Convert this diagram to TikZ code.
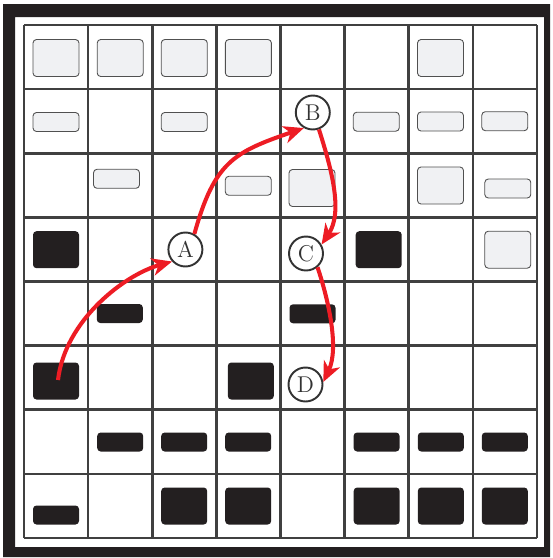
\documentclass[tikz,border=0pt]{standalone}
\usepackage{xcolor}
\usepackage{tikz}
\usetikzlibrary{arrows.meta, positioning, calc}

\definecolor{boardblack}{RGB}{35,31,32}
\definecolor{gridgray}{RGB}{64,64,64}
\definecolor{lightfill}{RGB}{240,241,243}
\definecolor{lightedge}{RGB}{80,80,80}
\definecolor{movered}{RGB}{237,28,36}

\begin{document}
\begin{tikzpicture}[x=0.02cm, y=-0.02cm,
  cellline/.style={gridgray, line width=1.5pt},
  lightpiece/.style={fill=lightfill, draw=lightedge, line width=0.5pt, rounded corners=2pt},
  darkpiece/.style={fill=boardblack, rounded corners=2pt},
  marker/.style={circle, draw=gridgray!80!black, line width=1.1pt, fill=white,
    minimum size=0.68cm, inner sep=0pt, text=gridgray!80!black, font=\fontsize{13}{13}\selectfont},
  move/.style={movered, line width=2.3pt, -{Stealth[length=11.5pt,width=10pt,inset=3.5pt]}}]
\useasboundingbox (0,0) rectangle (553,558);

% outer frame of the board
\fill[boardblack, even odd rule] (3,4) rectangle (550,557) (15,17) rectangle (544,547);

% 8x8 cells
\foreach \i in {0,...,8} {
  \draw[cellline] ({24+\i*64.125},25) -- ({24+\i*64.125},538);
  \draw[cellline] (24,{25+\i*64.125}) -- (537,{25+\i*64.125});
}

% light pieces (centre of each piece)
\foreach \x/\y in {56/58, 120.2/58, 184.3/58, 248.4/58, 440.5/58,
  312/188, 440.5/185.5, 507.8/249.7}
  \draw[lightpiece] (\x-23,\y-18.5) rectangle +(46,37);
\foreach \x/\y in {56/122, 184.2/122, 376.3/121.7, 440.5/121.5, 504.8/121.2,
  116.5/178.8, 248.3/185.8, 507.8/188.5}
  \draw[lightpiece] (\x-23,\y-9.5) rectangle +(46,19);

% dark pieces
\foreach \x/\y in {56/249.7, 378.7/249.7, 56/381, 250.8/381,
  184.2/506, 248.2/506, 376.7/506, 440.8/506, 504.8/506}
  \fill[darkpiece] (\x-23,\y-18.5) rectangle +(46,37);
\foreach \x/\y in {119.8/313.5, 312.5/313.8, 120.2/442, 184.2/442, 248.2/442,
  376.6/442, 440.8/442, 504.8/442, 56/515}
  \fill[darkpiece] (\x-23,\y-9.5) rectangle +(46,19);

% squares visited by the move
\node[marker] (A) at (185.4,249.5) {A};
\node[marker] (B) at (312.8,112.5) {B};
\node[marker] (C) at (306,253.5) {C};
\node[marker] (D) at (305.5,384.5) {D};
\coordinate (start) at (58,380);

\draw[move] (start) .. controls +(7,-60) and +(-47,13) .. (A.222);
\draw[move] (A.60) .. controls +(20,-72) and +(-70,24) .. (B.240);
\draw[move] (B.-70) .. controls +(12,38) and +(22,-33) .. (C.30);
\draw[move] (C.-50) .. controls +(11,33) and +(16,-34) .. (D.8);
\end{tikzpicture}
\end{document}
